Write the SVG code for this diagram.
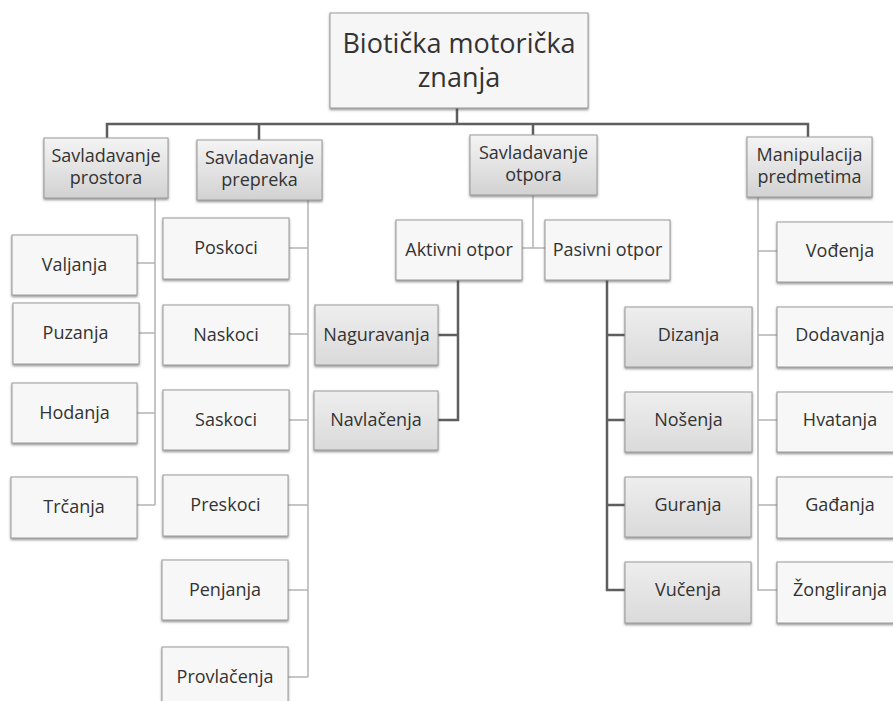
<svg xmlns="http://www.w3.org/2000/svg" width="893" height="701" viewBox="0 0 893 701">
<defs>
<linearGradient id="g1" x1="0" y1="0" x2="0" y2="1"><stop offset="0" stop-color="#f4f4f4"/><stop offset="1" stop-color="#d2d2d2"/></linearGradient>
<linearGradient id="g2" x1="0" y1="0" x2="0" y2="1"><stop offset="0" stop-color="#eeeeee"/><stop offset="1" stop-color="#dadada"/></linearGradient>
<filter id="sh" x="-10%" y="-10%" width="120%" height="130%"><feDropShadow dx="0" dy="1.5" stdDeviation="0.8" flood-color="#444" flood-opacity="0.6"/></filter>
<style>
rect{stroke:#9a9a9a;stroke-width:1;filter:url(#sh)}
.w{fill:#f7f7f7}
.h{fill:url(#g1)}
.s{fill:url(#g2)}
.root{fill:#f6f6f6}
text{font-family:"Open Sans","Liberation Sans",sans-serif;font-size:18px;fill:#333333;text-anchor:middle}
.big{font-size:27px}
.dk{stroke:#5e5e5e;stroke-width:2.5;fill:none}
.lt{stroke:#b4b4b4;stroke-width:1.5;fill:none}
</style>
</defs>
<rect width="893" height="701" fill="#ffffff" style="stroke:none;filter:none"/>
<g id="connectors">
<path class="dk" d="M457 108V124M107 138V124H808V137M259 124V140M533 124V135"/>
<path class="lt" d="M155 198V505M137 263H155M139 333H155M137 413H155M137 505H155"/>
<path class="lt" d="M308 200V677M289 248H308M289 334H308M289 420H308M288 505H308M288 590H308M288 677H308"/>
<path class="lt" d="M533 195V248M522 248H545"/>
<path class="dk" d="M458 280V420H438M438 335H458"/>
<path class="dk" d="M607 280V590H625M607 335H625M607 420H625M607 505H625"/>
<path class="lt" d="M758 196V590H777M758 251H777M758 335H777M758 420H777M758 505H777"/>
</g>
<g id="root"><rect class="root" x="330" y="13" width="258" height="95"/><text class="big" x="459" y="53">Biotička motorička</text><text class="big" x="459" y="87">znanja</text></g>
<g id="prostora"><rect class="h" x="44" y="138" width="124" height="60"/><text x="106" y="162">Savladavanje</text><text x="106" y="184">prostora</text></g>
<g id="prepreka"><rect class="h" x="197" y="140" width="125" height="60"/><text x="259.5" y="164">Savladavanje</text><text x="259.5" y="186">prepreka</text></g>
<g id="otpora"><rect class="h" x="470" y="135" width="127" height="60"/><text x="533.5" y="159">Savladavanje</text><text x="533.5" y="181">otpora</text></g>
<g id="manipulacija"><rect class="h" x="747" y="137" width="125" height="60"/><text x="809.5" y="161">Manipulacija</text><text x="809.5" y="183">predmetima</text></g>
<g id="valjanja"><rect class="w" x="12" y="235" width="125" height="60"/><text x="74.5" y="271">Valjanja</text></g>
<g id="puzanja"><rect class="w" x="13" y="303" width="126" height="61"/><text x="75.5" y="339">Puzanja</text></g>
<g id="hodanja"><rect class="w" x="12" y="383" width="125" height="60"/><text x="74.5" y="419">Hodanja</text></g>
<g id="trcanja"><rect class="w" x="11" y="477" width="126" height="61"/><text x="74" y="513">Trčanja</text></g>
<g id="poskoci"><rect class="w" x="163" y="218" width="126" height="61"/><text x="226" y="254">Poskoci</text></g>
<g id="naskoci"><rect class="w" x="163" y="305" width="126" height="60"/><text x="226" y="341">Naskoci</text></g>
<g id="saskoci"><rect class="w" x="163" y="390" width="126" height="60"/><text x="226" y="426">Saskoci</text></g>
<g id="preskoci"><rect class="w" x="163" y="475" width="125" height="61"/><text x="225.5" y="511">Preskoci</text></g>
<g id="penjanja"><rect class="w" x="162" y="560" width="126" height="60"/><text x="225" y="596">Penjanja</text></g>
<g id="provlacenja"><rect class="w" x="162" y="647" width="126" height="60"/><text x="225" y="683">Provlačenja</text></g>
<g id="aktivni"><rect class="w" x="396" y="220" width="126" height="60"/><text x="459" y="256">Aktivni otpor</text></g>
<g id="pasivni"><rect class="w" x="545" y="220" width="125" height="60"/><text x="607.5" y="256">Pasivni otpor</text></g>
<g id="naguravanja"><rect class="s" x="315" y="305" width="123" height="60"/><text x="376.5" y="341">Naguravanja</text></g>
<g id="navlacenja"><rect class="s" x="314" y="391" width="124" height="59"/><text x="376" y="426">Navlačenja</text></g>
<g id="dizanja"><rect class="s" x="625" y="307" width="127" height="60"/><text x="688.5" y="341">Dizanja</text></g>
<g id="nosenja"><rect class="s" x="625" y="392" width="127" height="60"/><text x="688.5" y="426">Nošenja</text></g>
<g id="guranja"><rect class="s" x="625" y="477" width="126" height="60"/><text x="688" y="511">Guranja</text></g>
<g id="vucenja"><rect class="s" x="625" y="562" width="126" height="61"/><text x="688" y="596">Vučenja</text></g>
<g id="vodenja"><rect class="w" x="777" y="222" width="126" height="60"/><text x="840" y="257">Vođenja</text></g>
<g id="dodavanja"><rect class="w" x="777" y="307" width="126" height="60"/><text x="840" y="341">Dodavanja</text></g>
<g id="hvatanja"><rect class="w" x="777" y="392" width="126" height="60"/><text x="840" y="426">Hvatanja</text></g>
<g id="gadanja"><rect class="w" x="777" y="477" width="126" height="61"/><text x="840" y="511">Gađanja</text></g>
<g id="zongliranja"><rect class="w" x="777" y="562" width="126" height="61"/><text x="840" y="596">Žongliranja</text></g>
</svg>
